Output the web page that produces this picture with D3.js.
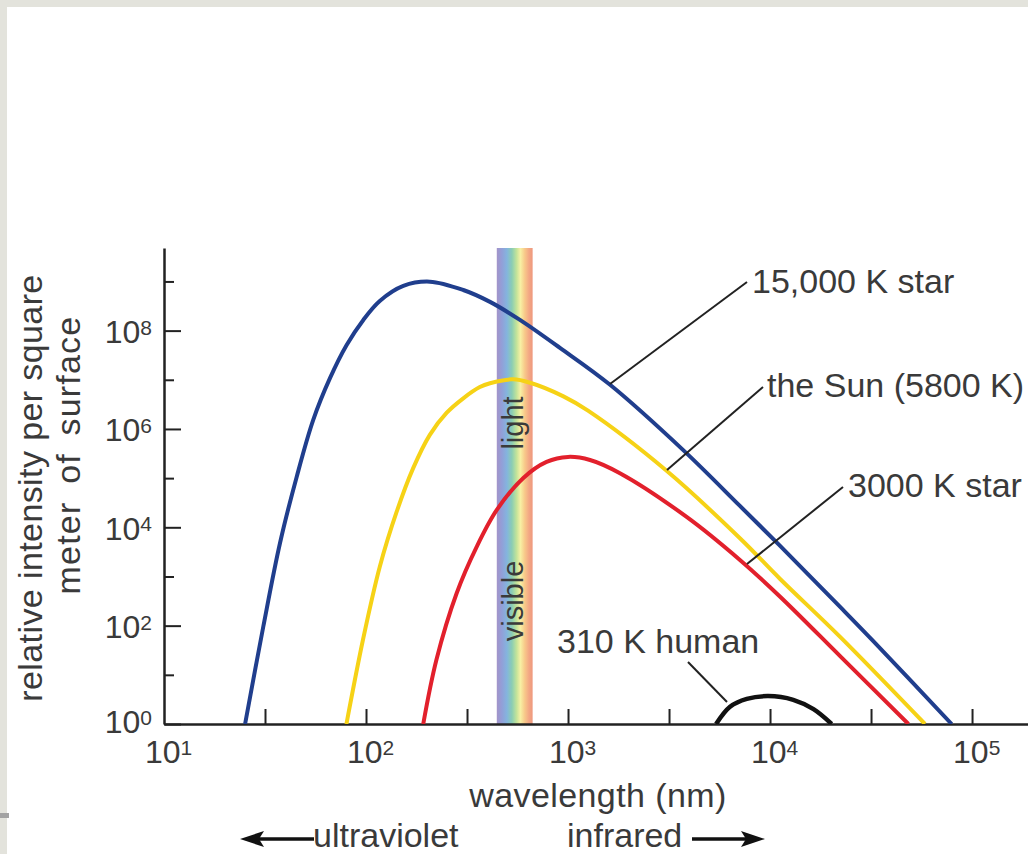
<!DOCTYPE html>
<html><head><meta charset="utf-8">
<script src="https://cdn.jsdelivr.net/npm/d3@7"></script>
<style>
html,body{margin:0;padding:0;background:#fff;}
svg{display:block;}
text{font-family:"Liberation Sans", Arial, Helvetica, sans-serif; fill:#3a3a3a;}
</style>
</head><body>
<svg id="c" width="1028" height="854"></svg>
<script>
// ---- data (wavelength in nm, relative intensity per square meter) ----
const star15000 = [[25.2,1],[31,95],[37.5,4.74e3],[45.4,1.07e5],[54.8,1.53e6],[66.4,1.09e7],[80.2,5.1e7],[97,1.65e8],[117,4.0e8],[153,8.1e8],[207,9.9e8],[303,6.7e8],[411,3.84e8],[578,1.65e8],[912,4.45e7],[1615,7.9e6],[3707,3.75e5],[7096,2.72e4],[11220,4.18e3],[22230,240],[32360,49],[79250,1]];
const sun5800 = [[80,1],[97,56],[117,1.58e3],[142,2.1e4],[171,1.58e5],[207,7.6e5],[251,2.14e6],[303,4.2e6],[366,7.1e6],[411,8.5e6],[533,1.02e7],[649,8.7e6],[949,4.6e6],[1256,2.35e6],[3076,1.41e5],[7096,6.0e3],[11220,890],[22230,59],[58480,1]];
const star3000 = [[192,1],[223,20],[281,456],[353,4.0e3],[444,2.25e4],[601,1.01e5],[783,2.14e5],[1000,2.7e5],[1285,2.34e5],[1807,1.26e5],[3864,1.63e4],[7096,2.17e3],[11220,388],[22230,24],[48420,1]];
const human310 = [[5408,1],[6339,2.24],[7674,3.24],[9800,3.7],[13030,3.1],[16410,2.0],[20180,1]];
const visibleBand = [444, 668];
const xLabelExps = [1,2,3,4,5];
const xTickExps = [1.5,2,2.5,3,3.5,4,4.5,5];
const yLabelExps = [0,2,4,6,8];
const yMinorExps = [1,3,5,7,9];
const seriesLabels = ["15,000 K star","the Sun (5800 K)","3000 K star","310 K human"];
const yTitle = ["relative intensity per square","meter of surface"];
const xTitle = "wavelength (nm)";
const rangeLabels = ["ultraviolet","infrared"];

// ---- scales ----
const svg = d3.select("#c");
const x = d3.scaleLog().domain([10, Math.pow(10,5.28)]).range([164, 1028.6]);
const y = d3.scaleLog().domain([1, Math.pow(10,9.68)]).range([724, 248]);

// background frame
svg.append("rect").attr("width",1028).attr("height",854).attr("fill","#e3e3dc");
svg.append("rect").attr("x",7).attr("y",7).attr("width",1021).attr("height",847).attr("fill","#fff");
svg.append("rect").attr("x",0).attr("y",813).attr("width",9).attr("height",5).attr("fill","#a3a3a3");

// visible band
const defs = svg.append("defs");
const grad = defs.append("linearGradient").attr("id","vis").attr("x1","0").attr("x2","1").attr("y1","0").attr("y2","0");
[[0,"#a393c9"],[0.14,"#929fd8"],[0.28,"#84b4de"],[0.42,"#8acdb4"],[0.55,"#c2e39a"],[0.66,"#f7f0a4"],[0.78,"#f8c98a"],[0.9,"#f3a784"],[1,"#ee987e"]]
  .forEach(s=>grad.append("stop").attr("offset",s[0]).attr("stop-color",s[1]));
defs.append("clipPath").attr("id","plot").append("rect")
  .attr("x",x(10)).attr("y",y.range()[1]).attr("width",x.range()[1]-x(10)).attr("height",y(1)-y.range()[1]);
svg.append("rect").attr("x",x(visibleBand[0])).attr("y",y.range()[1])
  .attr("width",x(visibleBand[1])-x(visibleBand[0])).attr("height",y(1)-y.range()[1])
  .attr("fill","url(#vis)");
const bandC = (x(visibleBand[0])+x(visibleBand[1]))/2;
svg.append("text").attr("transform",`translate(${bandC+8},423) rotate(-90)`).attr("text-anchor","middle").attr("font-size",29).attr("fill","#2a2a2a").text("light");
svg.append("text").attr("transform",`translate(${bandC+8},601) rotate(-90)`).attr("text-anchor","middle").attr("font-size",29).attr("fill","#2a2a2a").text("visible");

// axes
const axCol = "#222";
const xa = svg.append("g").attr("transform",`translate(0,${y(1)})`)
  .call(d3.axisBottom(x).tickValues(xTickExps.map(e=>Math.pow(10,e))).tickSize(-15).tickSizeOuter(0).tickFormat(""));
const ya = svg.append("g").attr("transform",`translate(${x(10)},0)`)
  .call(d3.axisLeft(y).tickValues(yLabelExps.map(e=>Math.pow(10,e))).tickSize(-17).tickSizeOuter(0).tickFormat(""));
const ym = svg.append("g").attr("transform",`translate(${x(10)},0)`)
  .call(d3.axisLeft(y).tickValues(yMinorExps.map(e=>Math.pow(10,e))).tickSize(-10).tickSizeOuter(0).tickFormat(""));
ym.select(".domain").remove();
[xa,ya,ym].forEach(g=>{
  g.select(".domain").attr("stroke",axCol).attr("stroke-width",2.5);
  g.selectAll(".tick line").attr("stroke",axCol).attr("stroke-width",2);
});

// tick labels
xLabelExps.forEach(e=>{
  const t = svg.append("text").attr("x",x(Math.pow(10,e))-19).attr("y",763).attr("font-size",32);
  t.append("tspan").text("10");
  t.append("tspan").attr("dy",-8.5).attr("font-size",21).text(String(e));
});
yLabelExps.forEach(e=>{
  const t = svg.append("text").attr("x",152).attr("y",y(Math.pow(10,e))+(e===0?9:12.5)).attr("font-size",32).attr("text-anchor","end");
  t.append("tspan").text("10");
  t.append("tspan").attr("dy",-8.5).attr("font-size",21).text(String(e));
});

// axis titles
svg.append("text").attr("transform","translate(42,488) rotate(-90)").attr("text-anchor","middle").attr("font-size",34).attr("letter-spacing",0.4).text(yTitle[0]);
svg.append("text").attr("transform","translate(80,455) rotate(-90)").attr("text-anchor","middle").attr("font-size",34).attr("letter-spacing",1.2).attr("word-spacing",7).text(yTitle[1]);
svg.append("text").attr("x",598).attr("y",807).attr("text-anchor","middle").attr("font-size",34).attr("letter-spacing",0.4).text(xTitle);

// curves
const line = d3.line().x(d=>x(d[0])).y(d=>y(d[1])).curve(d3.curveCatmullRom.alpha(0.5));
const series = [[star15000,"#203e8d",4],[sun5800,"#f6d216",4],[star3000,"#e2202c",4],[human310,"#111",4.5]];
const cg = svg.append("g").attr("clip-path","url(#plot)");
series.forEach(s=>{
  cg.append("path").datum(s[0]).attr("d",line).attr("fill","none").attr("stroke",s[1]).attr("stroke-width",s[2]);
});

// labels + leader lines
const lab = [
  {t:seriesLabels[0], tx:752, ty:293, l:[747,282,610,384]},
  {t:seriesLabels[1], tx:767, ty:397, l:[763,387,667,470]},
  {t:seriesLabels[2], tx:848, ty:497, l:[843,487,747,564]},
  {t:seriesLabels[3], tx:557, ty:653, l:[688,662,727,702]}
];
lab.forEach(d=>{
  svg.append("line").attr("x1",d.l[0]).attr("y1",d.l[1]).attr("x2",d.l[2]).attr("y2",d.l[3]).attr("stroke","#222").attr("stroke-width",2);
  svg.append("text").attr("x",d.tx).attr("y",d.ty).attr("font-size",34).text(d.t);
});

// ultraviolet / infrared arrows
svg.append("text").attr("x",313).attr("y",847).attr("font-size",34).text(rangeLabels[0]);
svg.append("text").attr("x",567).attr("y",847).attr("font-size",34).text(rangeLabels[1]);
svg.append("line").attr("x1",256).attr("y1",839).attr("x2",314).attr("y2",839).attr("stroke","#111").attr("stroke-width",3.5);
svg.append("path").attr("d","M240,839 L264,831 L259,839 L264,847 Z").attr("fill","#111");
svg.append("line").attr("x1",692).attr("y1",839).attr("x2",750).attr("y2",839).attr("stroke","#111").attr("stroke-width",3.5);
svg.append("path").attr("d","M765,839 L741,831 L746,839 L741,847 Z").attr("fill","#111");
</script>
</body></html>
